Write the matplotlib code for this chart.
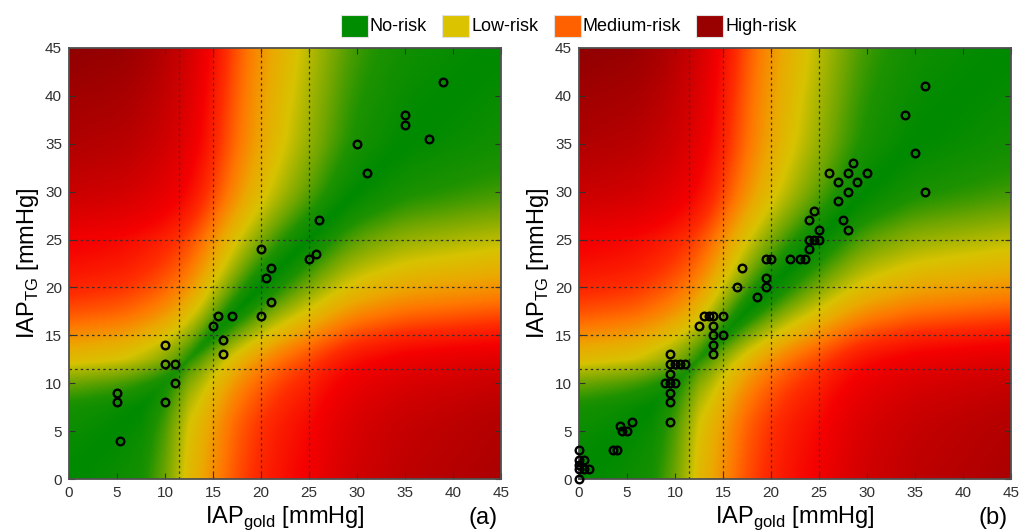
import numpy as np
import matplotlib
matplotlib.use("Agg")
import matplotlib.pyplot as plt
from matplotlib.colors import LinearSegmentedColormap
from matplotlib.patches import Patch

plt.rcParams['font.family'] = ['Liberation Sans', 'DejaVu Sans']
plt.rcParams['mathtext.fontset'] = 'custom'
plt.rcParams['mathtext.rm'] = 'Liberation Sans'

# panel (a) measurements
gold_a = [5, 5, 5.3, 10, 10, 11, 11, 10, 15, 15.5, 17, 16, 16, 20, 20, 20.5, 21, 21,
          25, 25.7, 26, 30, 31, 35, 35, 37.5, 39]
tg_a = [9, 8, 4, 14, 12, 12, 10, 8, 16, 17, 17, 14.5, 13, 24, 17, 21, 22, 18.5,
        23, 23.5, 27, 35, 32, 38, 37, 35.5, 41.5]

# panel (b) measurements
gold_b = [0, 0, 0, 0, 0, 0.5, 0.5, 1,
          3.5, 4, 4.3, 4.5, 5, 5.5,
          9.5, 9.5, 10, 10.5, 11, 9.5, 9, 9.5, 10, 9.5, 9.5, 9.5,
          12.5, 13, 13.5, 14, 15, 14, 14, 14, 14, 15,
          16.5, 17, 18.5, 19.5, 19.5, 19.5, 20, 22, 23, 23.5,
          24, 24, 24.5, 25, 25, 24, 24.5,
          26, 27, 27, 27.5, 28, 28, 28, 28.5, 29, 30,
          34, 35, 36, 36]
tg_b = [0, 1, 1.5, 2, 3, 1, 2, 1,
        3, 3, 5.5, 5, 5, 6,
        13, 12, 12, 12, 12, 11, 10, 10, 10, 9, 8, 6,
        16, 17, 17, 17, 17, 16, 15, 14, 13, 15,
        20, 22, 19, 20, 21, 23, 23, 23, 23, 23,
        24, 25, 25, 25, 26, 27, 28,
        32, 31, 29, 27, 26, 30, 32, 33, 31, 32,
        38, 34, 30, 41]

risk_labels = ['No-risk', 'Low-risk', 'Medium-risk', 'High-risk']
risk_colors = ['#008c00', '#dcc300', '#ff6000', '#990000']

grade_lines = [11.5, 15, 20, 25]

# shape of the shaded risk background
grade_iap = [0, 5, 10, 12.5, 15, 17.5, 20, 22.5, 25, 27.5, 30, 35, 45]
grade_val = [0, 0.1, 0.3, 0.5, 0.9, 1.3, 1.65, 1.95, 2.2, 2.45, 2.65, 2.85, 3.0]
mid_iap = [0, 7.5, 10, 12.5, 15, 17.5, 20, 25, 45]
mid_val = [0, 0, 0.2, 0.5, 0.5, 0.5, 0.45, 0.3, 0.2]


def risk_map():
    fine = np.linspace(0, 45, 451)
    g = np.interp(fine, grade_iap, grade_val)
    g = np.convolve(np.pad(g, 15, mode='edge'), np.ones(31) / 31, mode='valid')
    X, Y = np.meshgrid(fine, fine)
    d = np.abs(np.interp(X, fine, g) - np.interp(Y, fine, g))
    hi = np.maximum(X, Y)
    lo = np.minimum(X, Y)
    t = np.clip((lo - 5) / 15, 0, 1)
    s = t * t * (3 - 2 * t)
    q_hi = np.clip((hi - 25) / 20, 0, 1) * np.where(Y > X, 0.75, 0.35)
    c = (1 - s) * (np.interp(hi, mid_iap, mid_val) + q_hi)
    return d + c


nodes = [(0.0, (0, 138, 0)), (0.25, (30, 146, 0)), (0.5, (110, 165, 0)),
         (0.9, (215, 195, 0)), (1.2, (235, 168, 0)), (1.55, (255, 118, 0)),
         (2.0, (255, 45, 0)), (2.45, (245, 0, 0)), (3.2, (195, 0, 0)),
         (3.9, (148, 0, 0)), (4.0, (145, 0, 0))]
cmap = LinearSegmentedColormap.from_list(
    'risk', [(p / 4.0, tuple(c / 255 for c in col)) for p, col in nodes])

R = risk_map()

fig = plt.figure(figsize=(10.32, 5.32), dpi=100)
ax_a = fig.add_axes([0.0669, 0.0996, 0.4186, 0.8102])
ax_b = fig.add_axes([0.561, 0.0996, 0.4186, 0.8102])

for ax, gx, gy, tag in [(ax_a, gold_a, tg_a, '(a)'), (ax_b, gold_b, tg_b, '(b)')]:
    ax.imshow(R, extent=[0, 45, 0, 45], origin='lower', cmap=cmap, vmin=0, vmax=4,
              aspect='auto', interpolation='bilinear')
    for v in grade_lines:
        ax.axvline(v, color='#333333', lw=0.9, ls=(0, (2, 2.5)))
        ax.axhline(v, color='#333333', lw=0.9, ls=(0, (2, 2.5)))
    ax.plot(gx, gy, 'o', mfc='none', mec='black', ms=5.5, mew=1.7, clip_on=False, zorder=5)
    ax.set_xlim(0, 45)
    ax.set_ylim(0, 45)
    ax.set_xticks(range(0, 46, 5))
    ax.set_yticks(range(0, 46, 5))
    ax.tick_params(direction='in', top=True, right=True, length=4, width=0.8,
                   labelsize=11, colors='#303030', pad=5)
    for sp in ax.spines.values():
        sp.set_color('#505050')
        sp.set_linewidth(1.3)
    ax.set_xlabel(r'IAP$_{\mathrm{gold}}$ [mmHg]', fontsize=17, labelpad=3)
    ax.set_ylabel(r'IAP$_{\mathrm{TG}}$ [mmHg]', fontsize=17, labelpad=3)
    pos = ax.get_position()
    fig.text(pos.x1 - 0.017, 0.026, tag, fontsize=17, ha='center', va='center')

handles = [Patch(facecolor=c, edgecolor='#e0e0e0', lw=0.8) for c in risk_colors]
fig.legend(handles, risk_labels, loc='center', bbox_to_anchor=(0.551, 0.952), ncol=4,
           frameon=False, fontsize=13, handlelength=1.5, handleheight=1.5,
           handletextpad=0.1, columnspacing=0.85)

fig.savefig('out.png', dpi=100)
